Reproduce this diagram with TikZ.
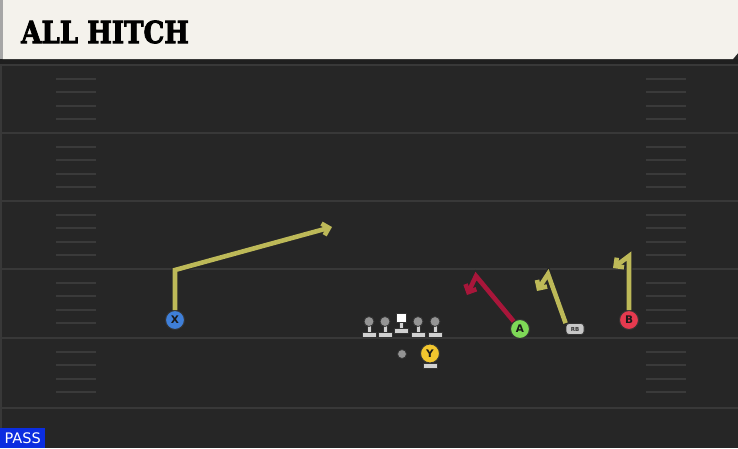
\documentclass[tikz,border=0pt]{standalone}
\usepackage{fontspec}
\setmainfont{DejaVu Sans}
\newfontfamily\titlefont{DejaVu Serif Bold}[FakeBold=3]
\usepackage{tikz}
\usetikzlibrary{arrows.meta}
\definecolor{fieldbg}{HTML}{262626}
\definecolor{fieldline}{HTML}{383838}
\definecolor{hashcol}{HTML}{3A3A3A}
\definecolor{headbg}{HTML}{F4F2EC}
\definecolor{routeyel}{HTML}{BDB958}
\definecolor{routered}{HTML}{A8163A}
\definecolor{xblue}{HTML}{3F7FD8}
\definecolor{agreen}{HTML}{7ED957}
\definecolor{bred}{HTML}{E63A4F}
\definecolor{yyellow}{HTML}{F2C62E}
\definecolor{passblue}{HTML}{0B2DE0}
\tikzset{
  route/.style={draw=#1,line width=4.6,line join=miter,
    -{Straight Barb[length=6,width=12]},
    preaction={draw=black!85,line width=6.8}},
  route/.default=routeyel,
  player/.style={circle,draw=black!80,line width=1,fill=#1,minimum size=19,
    inner sep=0,font=\fontsize{10.5}{10.5}\selectfont\bfseries,text=black!90},
  yardline/.style={draw=fieldline,line width=2},
  hash/.style={draw=hashcol,line width=2},
  lman/.style={draw=black!80,fill=#1,line width=0.8},
  lman/.default=black!18
}
\begin{document}
\begin{tikzpicture}[x=1pt,y=-1pt]
       \useasboundingbox(0,0)rectangle(738,448);
       \fill[fieldbg](0,0)rectangle(738,448);
       \fill[black!88](0,59)rectangle(738,65);
       \fill[headbg](2.5,0)--(738,0)--(738,53)--(733,59)--(2.5,59)--cycle;
       \fill[black!35](0,0)rectangle(2.5,59);
       \draw[fieldline,line width=1.5](1,65)--(1,448);
       \foreach \y in {65,133,201,269,338,408}
         \draw[yardline](0,\y)--(738,\y);
       \foreach \y in {65,133,201,269,338}
         \foreach \k in {1,2,3,4}{
           \draw[hash](56,\y+13.6*\k)--(96,\y+13.6*\k);
           \draw[hash](646,\y+13.6*\k)--(686,\y+13.6*\k);
         }
       \node[anchor=west,inner sep=0]at(21,32)
         {\scalebox{0.9}[1.05]{\titlefont\fontsize{29}{29}\selectfont ALL HITCH}};
       \node[fill=passblue,text=white,anchor=south west,inner sep=0,
         minimum width=45,minimum height=20,
         font=\fontsize{14.5}{14.5}\selectfont](pass)at(0,448){PASS};
       \coordinate(Xc)at(175,270);
       \coordinate(Xe)at(332,227);
       \coordinate(Ac)at(476,276);
       \coordinate(Ae)at(467,295);
       \coordinate(Rc)at(548,274);
       \coordinate(Re)at(537,291);
       \coordinate(Bc)at(629,256);
       \coordinate(Be)at(613,268);
       \node[player=xblue](X)at(175,320){X};
       \node[player=agreen](A)at(520,329){A};
       \node[player=bred](B)at(629,320){B};
       \node[rounded corners=3,draw=black!80,line width=0.8,fill=black!22,
         minimum width=18,minimum height=11,inner sep=0,text=black!80,
         font=\fontsize{5.5}{5.5}\selectfont\bfseries](RB)at(575,329){RB};
       \draw[route](X)--(Xc)--(Xe);
       \draw[route=routered](A)--(Ac)--(Ae);
       \draw[route](RB.north west)--(Rc)--(Re);
       \draw[route](B)--(Bc)--(Be);
       \foreach \x in {369,385,418,435}{
         \draw[lman](\x-7,332.5)rectangle(\x+7,337.5);
         \draw[lman](\x-2,325)rectangle(\x+2,332.5);
         \draw[lman=black!42](\x,321.5)circle(5);
       }
       \draw[lman](394.5,328.5)rectangle(408.5,333.5);
       \draw[lman](399.5,321.5)rectangle(403.5,328.5);
       \draw[lman=white](396.5,313)rectangle(406,322);
       \draw[lman=black!42](402,354)circle(4.5);
       \draw[lman](423.5,363.5)rectangle(437,368.5);
       \node[player=yyellow](Y)at(430,353.5){Y};
      \end{tikzpicture}
\end{document}
